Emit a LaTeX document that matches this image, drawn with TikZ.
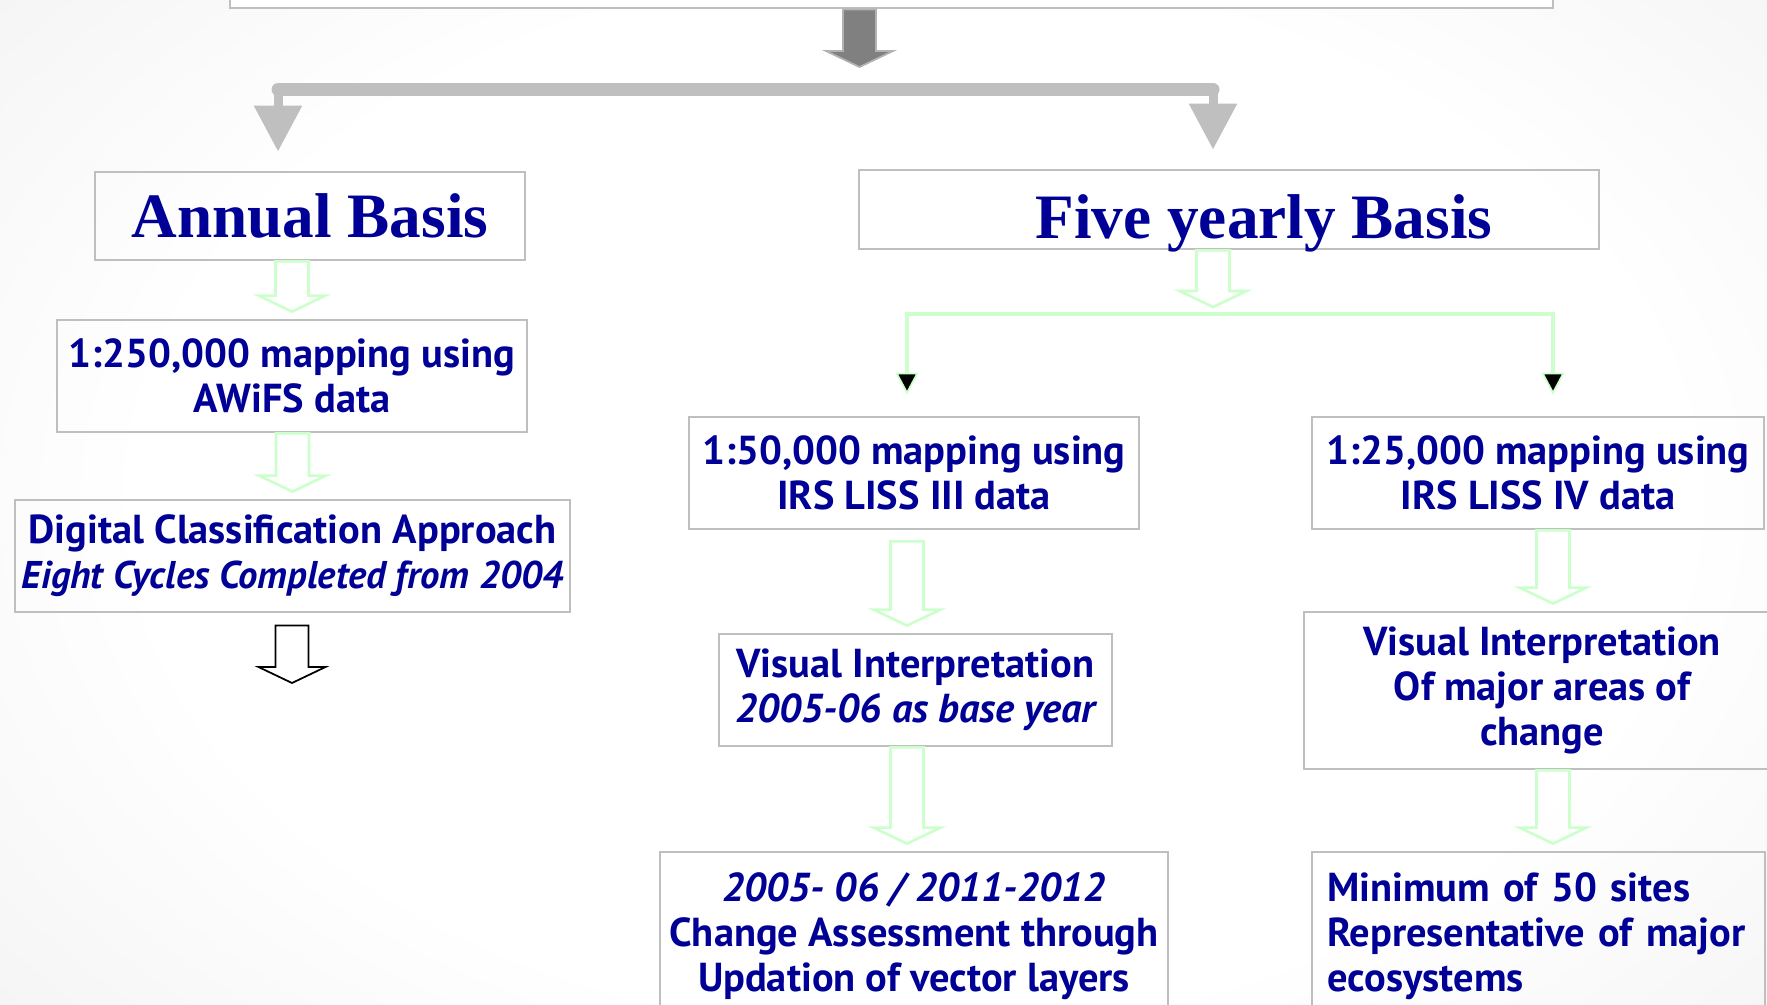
\documentclass[tikz,border=0pt]{standalone}
\usepackage{fontspec}
\setmainfont{PT Sans}
\newfontfamily\titlefont{Liberation Serif}
\usetikzlibrary{arrows.meta, positioning, calc}
\definecolor{navytext}{RGB}{0,0,150}
\definecolor{boxgray}{RGB}{191,191,191}
\definecolor{palegreen}{RGB}{204,255,204}
\definecolor{bargray}{RGB}{191,191,191}
\pgfdeclareradialshading{slidebg}{\pgfpoint{0bp}{0bp}}{color(0bp)=(white); color(20bp)=(white); color(50bp)=(black!11)}

% hollow block arrow pointing down: [top gap] style, top point, target point
\newcommand{\blockarrow}[4][0]{%
  \draw[#2] ($(#3)+(-0.33,-#1)$) -- ($(#4)+(-0.33,0.46)$) -- ($(#4)+(-0.67,0.46)$)
    -- ($(#4)+(0,0.14)$) -- ($(#4)+(0.67,0.46)$) -- ($(#4)+(0.33,0.46)$)
    -- ($(#3)+(0.33,-#1)$) -- cycle;}

\begin{document}
\begin{tikzpicture}[
  lbox/.style={rectangle, draw=boxgray, line width=1.6pt, text=navytext,
               font=\fontsize{23}{25.6}\selectfont\bfseries, align=center, inner sep=0pt},
  titlebox/.style={lbox, font=\titlefont\fontsize{36}{40}\selectfont\bfseries},
  garrow/.style={draw=palegreen, line width=1.5pt, line join=miter},
  darkarrow/.style={draw=black!30, fill=black!50, line width=1pt},
  blackarrow/.style={draw=black, fill=white, line width=1pt},
  greybar/.style={draw=bargray, line width=0.26cm, line cap=round},
  greydrop/.style={draw=bargray, line width=0.18cm, shorten >=0.38cm,
                   -{Triangle[width=0.92cm, length=0.92cm, fill=bargray]}},
  gline/.style={draw=palegreen, line width=1.8pt, shorten >=0.42cm,
                -{Triangle[width=0.46cm, length=0.44cm, line width=1pt, fill=black]}}
]
  % page and background
  \useasboundingbox (0,0) rectangle (35.34,-20.10);
  \begin{scope}
    \clip (0,0) rectangle (35.34,-20.10);
    \shade[shading=slidebg] (-1,3) rectangle (37.5,-23);
  \end{scope}

  \node[lbox, fill=white, minimum width=26.46cm, minimum height=0.96cm] (source) at (17.83,0.32) {};

  \node[titlebox, minimum width=8.6cm, minimum height=1.76cm] (annual) at (6.20,-4.32) {Annual Basis};
  \node[titlebox, minimum width=14.8cm, minimum height=1.58cm, text height=1.18cm, text depth=0pt] (fiveyr)
    at (24.58,-4.19) {\hspace*{1.4cm}Five yearly Basis};

  \node[lbox, minimum width=9.4cm, minimum height=2.24cm] (awifs) at (5.84,-7.52)
    {1:250,000 mapping using\\AWiFS data};
  \node[lbox, minimum width=11.1cm, minimum height=2.24cm] (digital) at (5.85,-11.12)
    {Digital Classification Approach\\{\fontsize{22}{25.6}\selectfont\itshape Eight Cycles Completed from 2004}};

  \node[lbox, minimum width=9.0cm, minimum height=2.24cm] (liss3) at (18.28,-9.46)
    {1:50,000 mapping using\\IRS LISS III data};
  \node[lbox, minimum width=9.04cm, minimum height=2.24cm] (liss4) at (30.76,-9.46)
    {1:25,000 mapping using\\IRS LISS IV data};
  \node[lbox, minimum width=7.86cm, minimum height=2.24cm] (visbase) at (18.31,-13.80)
    {Visual Interpretation\\{\itshape 2005-06 as base year}};
  \node[lbox, minimum width=9.52cm, minimum height=3.14cm] (vismajor) at (30.84,-13.81)
    {Visual Interpretation\\Of major areas of\\change};
  \node[lbox, minimum width=10.16cm, minimum height=3.36cm] (update) at (18.28,-18.72)
    {{\itshape 2005- 06 / 2011-2012}\\Change Assessment through\\Updation of vector layers};
  \node[lbox, minimum width=9.06cm, minimum height=3.36cm, text width=8.45cm, align=left] (sites) at (30.77,-18.72)
    {Minimum of 50 sites\\Representative of major\\ecosystems};

  \coordinate (hub) at (17.19,-1.48);
  \coordinate (brL) at (5.56,-1.79);
  \coordinate (brR) at (24.26,-1.79);
  \coordinate (fork) at (24.26,-6.28);
  \coordinate (colL) at (18.14,0);
  \coordinate (colR) at (31.06,0);
  \coordinate (more) at (5.84,-13.80);

  % top split
  \blockarrow{darkarrow}{hub |- source.south}{hub}
  \draw[greybar] (brL) -- (brR);
  \foreach \c/\n in {brL/annual, brR/fiveyr}
    \draw[greydrop] (\c) -- (\c |- \n.north);

  % annual column
  \blockarrow{garrow}{awifs.north |- annual.south}{awifs.north}
  \blockarrow{garrow}{digital.north |- awifs.south}{digital.north}
  \blockarrow[0.24]{blackarrow}{more |- digital.south}{more}

  % five yearly columns
  \blockarrow{garrow}{fork |- fiveyr.south}{fork}
  \draw[gline] (fork) -| (colL |- liss3.north);
  \draw[gline] (fork) -| (colR |- liss4.north);
  \blockarrow[0.22]{garrow}{colL |- liss3.south}{colL |- visbase.north}
  \blockarrow{garrow}{colR |- liss4.south}{colR |- vismajor.north}
  \blockarrow{garrow}{colL |- visbase.south}{colL |- update.north}
  \blockarrow{garrow}{colR |- vismajor.south}{colR |- sites.north}
\end{tikzpicture}
\end{document}
